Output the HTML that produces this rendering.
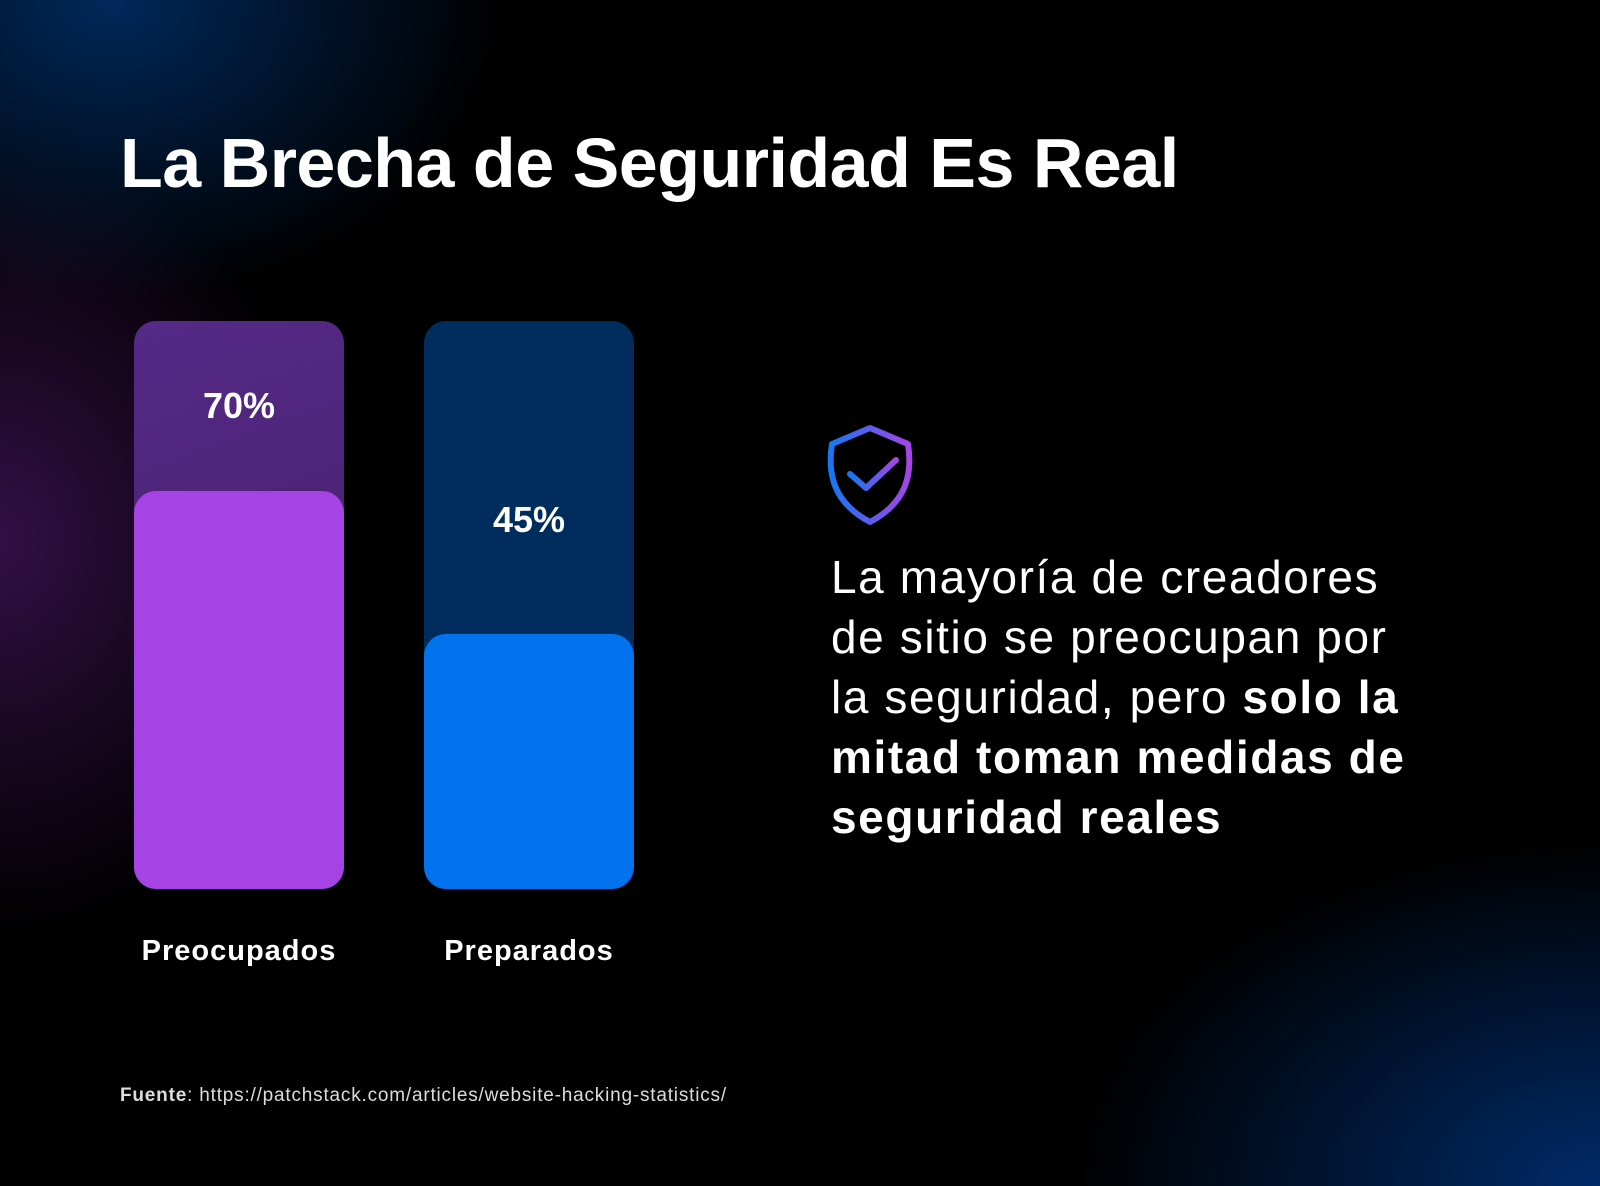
<!DOCTYPE html>
<html><head><meta charset="utf-8"><style>
html,body{margin:0;padding:0}
body{width:1600px;height:1186px;position:relative;overflow:hidden;background:#000;font-family:"Liberation Sans",sans-serif;color:#fff}
.bg{position:absolute;inset:0;background:
radial-gradient(ellipse 460px 560px at 0px 540px, rgba(85,25,115,0.6), transparent 70%),
radial-gradient(ellipse 520px 400px at 110px 0px, rgba(0,45,100,0.9), transparent 75%),
radial-gradient(ellipse 700px 460px at 1600px 1186px, rgba(0,45,110,0.95), transparent 75%);}
.t{position:absolute;left:120px;top:123px;font-size:70px;font-weight:bold;letter-spacing:-0.5px;white-space:nowrap}
.bar{position:absolute;width:210px;border-radius:22px}
.lbl{position:absolute;width:210px;text-align:center;font-weight:bold;white-space:nowrap}
.p{position:absolute;left:831px;top:547px;font-size:46px;line-height:60px;width:760px;letter-spacing:1.6px}
.f{position:absolute;left:120px;top:1085px;font-size:19px;color:#ddd;letter-spacing:0.8px}
</style></head><body>
<div class="bg"></div>
<div class="t">La Brecha de Seguridad Es Real</div>
<div class="bar" style="left:134px;top:321px;height:568px;background:linear-gradient(160deg,#552a88,#3f1a5c)"></div>
<div class="bar" style="left:134px;top:491px;height:398px;background:#a543e5"></div>
<div class="lbl" style="left:134px;top:385px;font-size:36px">70%</div>
<div class="bar" style="left:424px;top:321px;height:568px;background:#002d5e"></div>
<div class="bar" style="left:424px;top:634px;height:255px;background:#0273ec"></div>
<div class="lbl" style="left:424px;top:499px;font-size:36px">45%</div>
<div class="lbl" style="left:134px;top:935px;font-size:29px;letter-spacing:1px">Preocupados</div>
<div class="lbl" style="left:424px;top:935px;font-size:29px;letter-spacing:1px">Preparados</div>
<svg style="position:absolute;left:820px;top:422px" width="100" height="106" viewBox="0 0 100 106">
<defs><linearGradient id="g" x1="0" y1="0" x2="1" y2="0"><stop offset="0" stop-color="#1677f0"/><stop offset="1" stop-color="#a544e6"/></linearGradient></defs>
<path d="M50 6 L88 22 C94 60 80 84 50 100 C20 84 6 60 12 22 Z" fill="none" stroke="url(#g)" stroke-width="6" stroke-linejoin="round"/>
<path d="M30 52 L46 66 L76 38" fill="none" stroke="url(#g)" stroke-width="6" stroke-linecap="round" stroke-linejoin="round"/>
</svg>
<div class="p">La mayoría de creadores<br>de sitio se preocupan por<br>la seguridad, pero <b>solo la<br>mitad toman medidas de<br>seguridad reales</b></div>
<div class="f"><b>Fuente</b>: https://patchstack.com/articles/website-hacking-statistics/</div>
</body></html>
